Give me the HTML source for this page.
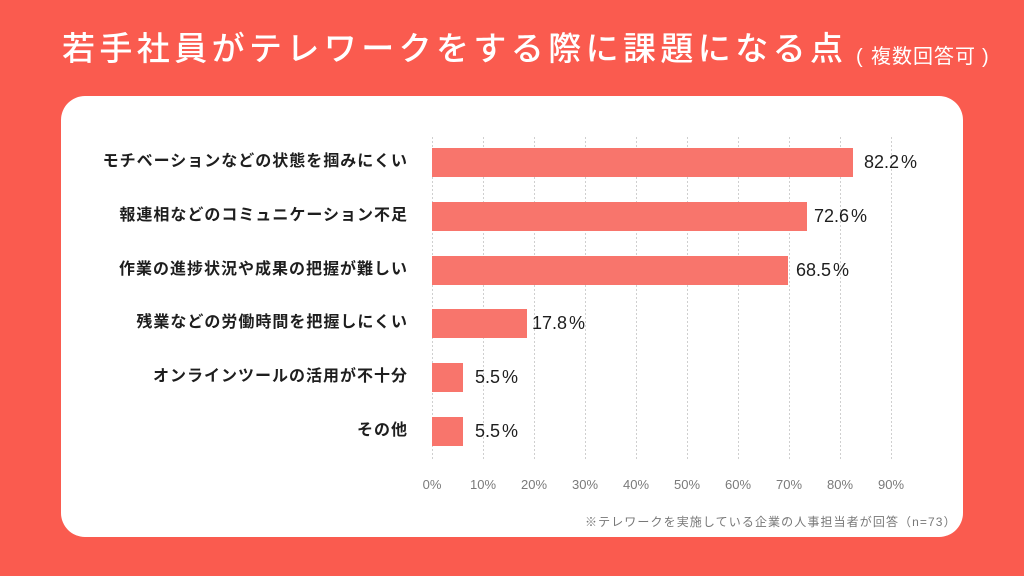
<!DOCTYPE html>
<html lang="ja">
<head>
<meta charset="utf-8">
<style>
  html,body{margin:0;padding:0;}
  body{width:1024px;height:576px;background:#FA5B4F;position:relative;overflow:hidden;
       font-family:"Liberation Sans","Noto Sans CJK JP",sans-serif;}
  .abs{position:absolute;white-space:nowrap;}
  .title{left:62px;top:32px;font-size:33px;line-height:33px;letter-spacing:4.4px;color:#fff;
         font-family:"Liberation Sans","Noto Sans CJK JP",sans-serif;font-weight:500;}
  .sub{font-size:20px;line-height:20px;color:#fff;font-family:"Liberation Sans","Noto Sans CJK JP",sans-serif;}
  .card{position:absolute;left:61px;top:96px;width:902px;height:441px;background:#fff;border-radius:24px;}
  .cat{right:616px;font-size:16px;line-height:16px;letter-spacing:1px;color:#1e1e1e;font-weight:700;
       font-family:"Liberation Sans","Noto Sans CJK JP",sans-serif;text-align:right;}
  .val{font-size:18px;line-height:18px;color:#1e1e1e;font-family:"Liberation Sans",sans-serif;}
  .val span{margin-left:2px;}
  .tick{width:40px;text-align:center;font-size:13px;line-height:13px;color:#7a7a7a;top:478px;
        font-family:"Liberation Sans",sans-serif;}
  .note{left:585px;top:516px;font-size:12px;line-height:12px;letter-spacing:1.1px;color:#777;
        font-family:"Liberation Sans","Noto Sans CJK JP",sans-serif;}
</style>
</head>
<body>
  <div class="abs title">若手社員がテレワークをする際に課題になる点</div>
  <div class="abs sub" style="left:856px;top:47px;">(</div>
  <div class="abs sub" style="left:871px;top:47px;letter-spacing:1px;">複数回答可</div>
  <div class="abs sub" style="left:982px;top:47px;">)</div>

  <div class="card"></div>

  <svg class="abs" style="left:0;top:0;" width="1024" height="576" viewBox="0 0 1024 576">
    <g stroke="#cfcfcf" stroke-width="1" stroke-dasharray="2 2">
      <line x1="432.5" y1="137" x2="432.5" y2="460"/>
      <line x1="483.5" y1="137" x2="483.5" y2="460"/>
      <line x1="534.5" y1="137" x2="534.5" y2="460"/>
      <line x1="585.5" y1="137" x2="585.5" y2="460"/>
      <line x1="636.5" y1="137" x2="636.5" y2="460"/>
      <line x1="687.5" y1="137" x2="687.5" y2="460"/>
      <line x1="738.5" y1="137" x2="738.5" y2="460"/>
      <line x1="789.5" y1="137" x2="789.5" y2="460"/>
      <line x1="840.5" y1="137" x2="840.5" y2="460"/>
      <line x1="891.5" y1="137" x2="891.5" y2="460"/>
    </g>
    <g fill="#F8756C">
      <rect x="432" y="148" width="421" height="29"/>
      <rect x="432" y="202" width="375" height="29"/>
      <rect x="432" y="256" width="356" height="29"/>
      <rect x="432" y="309" width="95" height="29"/>
      <rect x="432" y="363" width="31" height="29"/>
      <rect x="432" y="417" width="31" height="29"/>
    </g>
  </svg>

  <div class="abs cat" style="top:154px;">モチベーションなどの状態を掴みにくい</div>
  <div class="abs cat" style="top:208px;">報連相などのコミュニケーション不足</div>
  <div class="abs cat" style="top:262px;">作業の進捗状況や成果の把握が難しい</div>
  <div class="abs cat" style="top:315px;">残業などの労働時間を把握しにくい</div>
  <div class="abs cat" style="top:369px;">オンラインツールの活用が不十分</div>
  <div class="abs cat" style="top:423px;">その他</div>

  <div class="abs val" style="left:864px;top:153px;">82.2<span>%</span></div>
  <div class="abs val" style="left:814px;top:207px;">72.6<span>%</span></div>
  <div class="abs val" style="left:796px;top:261px;">68.5<span>%</span></div>
  <div class="abs val" style="left:532px;top:314px;">17.8<span>%</span></div>
  <div class="abs val" style="left:475px;top:368px;">5.5<span>%</span></div>
  <div class="abs val" style="left:475px;top:422px;">5.5<span>%</span></div>

  <div class="abs tick" style="left:412px;">0%</div>
  <div class="abs tick" style="left:463px;">10%</div>
  <div class="abs tick" style="left:514px;">20%</div>
  <div class="abs tick" style="left:565px;">30%</div>
  <div class="abs tick" style="left:616px;">40%</div>
  <div class="abs tick" style="left:667px;">50%</div>
  <div class="abs tick" style="left:718px;">60%</div>
  <div class="abs tick" style="left:769px;">70%</div>
  <div class="abs tick" style="left:820px;">80%</div>
  <div class="abs tick" style="left:871px;">90%</div>

  <div class="abs note">※テレワークを実施している企業の人事担当者が回答（n=73）</div>
</body>
</html>
